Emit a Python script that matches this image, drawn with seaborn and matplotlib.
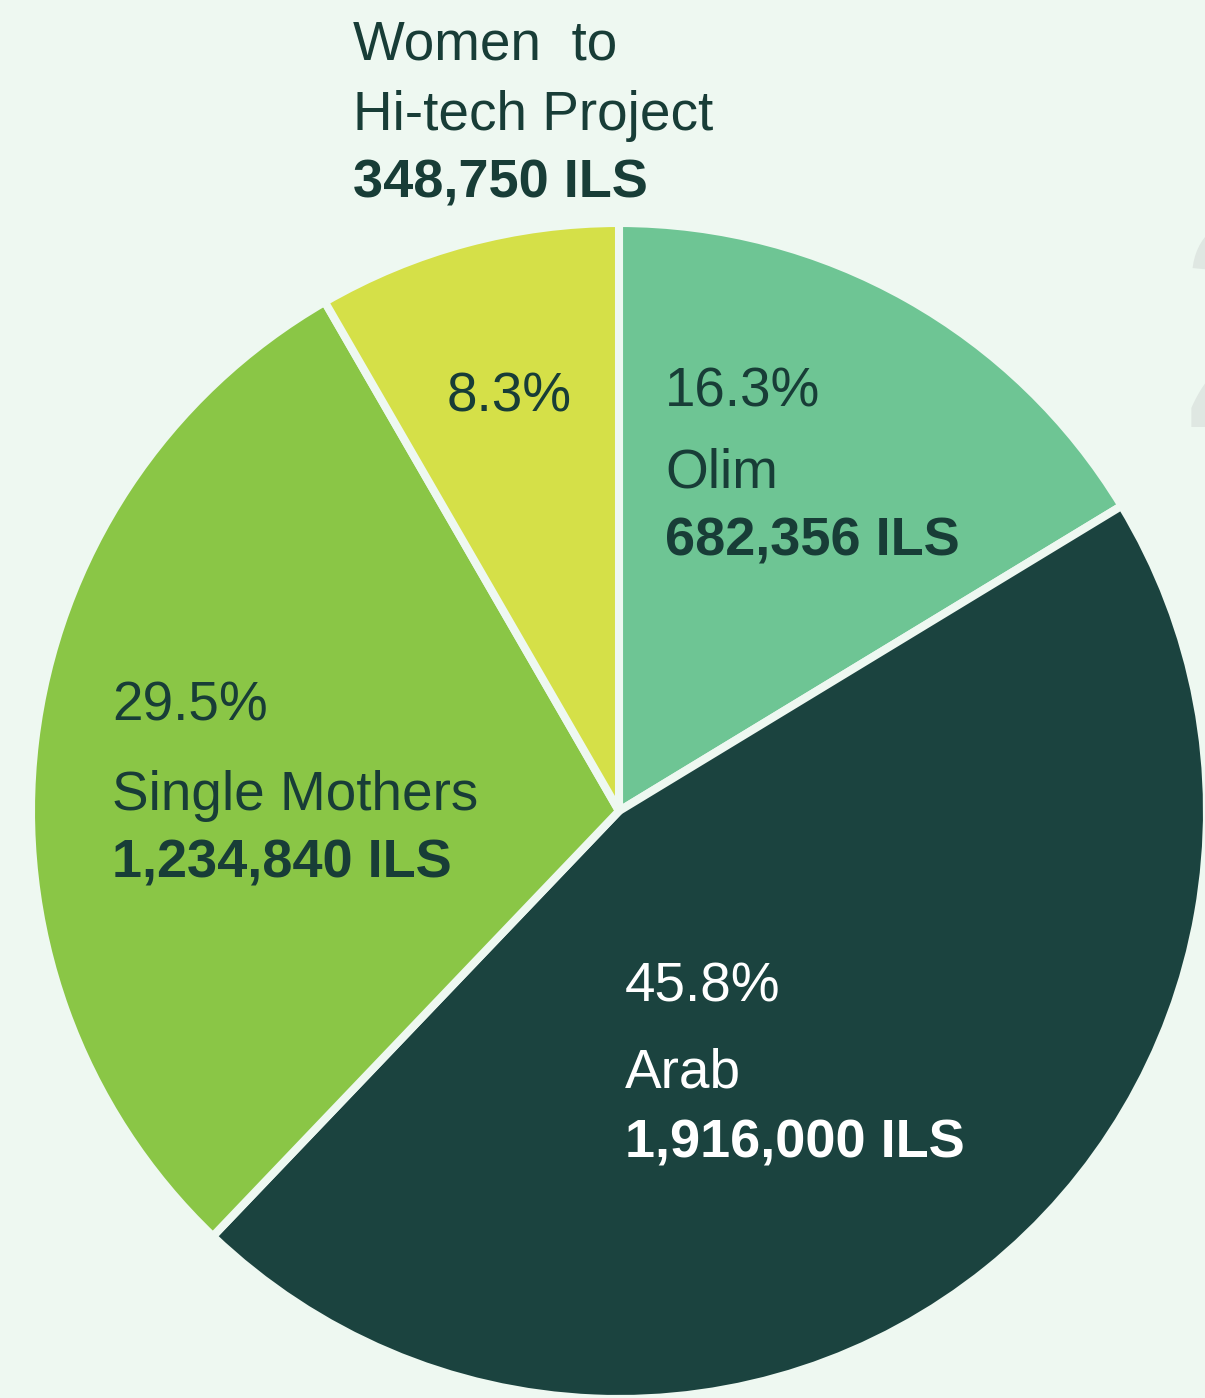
import matplotlib
matplotlib.use("Agg")
import matplotlib.pyplot as plt
import seaborn as sns

# ---- data ----
categories = ["Olim", "Arab", "Single Mothers", "Women  to\nHi-tech Project"]
amounts = [682356, 1916000, 1234840, 348750]
amount_labels = ["682,356 ILS", "1,916,000 ILS", "1,234,840 ILS", "348,750 ILS"]
percent_labels = ["16.3%", "45.8%", "29.5%", "8.3%"]
colors = ["#6ec594", "#1b433f", "#8ac646", "#d5e048"]

BG = "#eef8f1"
DARK = "#183d37"

sns.set_theme(style="white")
plt.rcParams["font.family"] = ["Liberation Sans", "DejaVu Sans"]

W, H = 1205, 1398
fig = plt.figure(figsize=(W / 100, H / 100), dpi=100, facecolor=BG)

def fx(px):
    return px / W

def fy(py):
    return 1 - py / H

# decorative background digit (partially visible at the right edge)
fig.text(fx(1176), fy(427), "2", fontsize=220, color="#dfe7e2",
         ha="left", va="baseline", fontfamily="Liberation Sans")

cx, cy, r = 619, 811, 588
ax = fig.add_axes([fx(cx - r), fy(cy + r), 2 * r / W, 2 * r / H])
ax.set_facecolor("none")
ax.pie(amounts, colors=colors, startangle=90, counterclock=False, radius=1,
       wedgeprops=dict(edgecolor=BG, linewidth=5.8, joinstyle="round"))
ax.set_xlim(-1, 1)
ax.set_ylim(-1, 1)
ax.set_aspect("equal")
ax.axis("off")

FS = 39.5

def block(x, y_pct, y_name, y_val, i, color):
    fig.text(fx(x), fy(y_pct), percent_labels[i], fontsize=FS,
             color=color, ha="left", va="baseline")
    fig.text(fx(x), fy(y_name), categories[i], fontsize=FS, color=color,
             ha="left", va="baseline")
    fig.text(fx(x), fy(y_val), amount_labels[i], fontsize=FS - 0.5, color=color,
             ha="left", va="baseline", fontweight="bold")

# Olim
block(665, 407, 488, 556, 0, DARK)
# Arab
block(625, 1002, 1088, 1157, 1, "white")
# Single Mothers
block(112, 721, 810, 878, 2, DARK)
# Women to Hi-tech (name above the pie)
fig.text(fx(447), fy(412), percent_labels[3], fontsize=FS, color=DARK,
         ha="left", va="baseline")
fig.text(fx(353), fy(130), categories[3], fontsize=FS, color=DARK,
         ha="left", va="baseline", linespacing=1.45)
fig.text(fx(353), fy(198), amount_labels[3], fontsize=FS - 0.5, color=DARK,
         ha="left", va="baseline", fontweight="bold")

fig.savefig("out.png", dpi=100, facecolor=BG)
